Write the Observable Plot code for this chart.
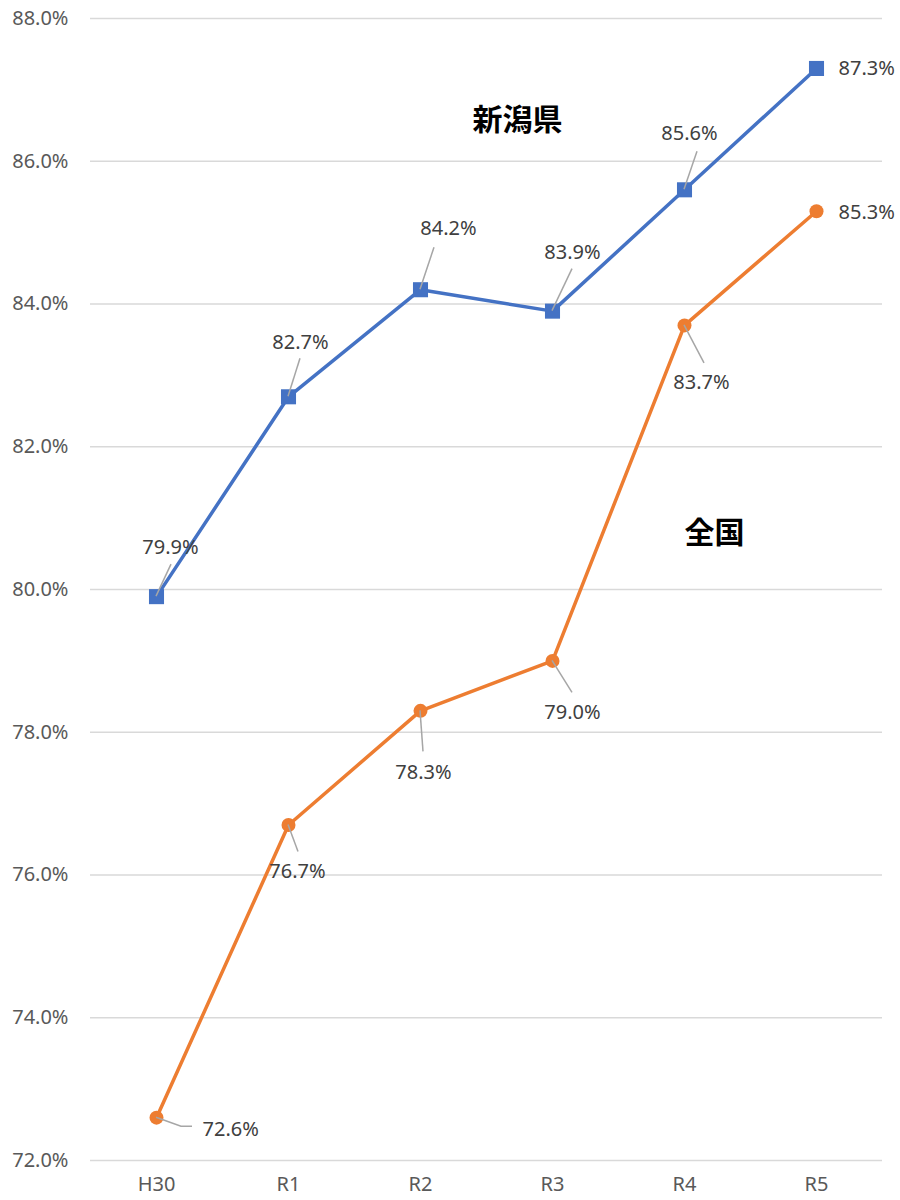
<!DOCTYPE html>
<html>
<head>
<meta charset="utf-8">
<script src="https://cdn.jsdelivr.net/npm/d3@7"></script>
<script src="https://cdn.jsdelivr.net/npm/@observablehq/plot@0.6"></script>
<style>
  html, body { margin: 0; padding: 0; background: #fff; }
  #chart { width: 900px; height: 1200px; }
</style>
</head>
<body>
<div id="chart"></div>
<script>
// ---- data ----
const years = ["H30", "R1", "R2", "R3", "R4", "R5"];
const niigata = [79.9, 82.7, 84.2, 83.9, 85.6, 87.3];
const national = [72.6, 76.7, 78.3, 79.0, 83.7, 85.3];
const yTicks = [72, 74, 76, 78, 80, 82, 84, 86, 88];
const seriesNames = ["新潟県", "全国"];

// ---- label placement (pixel offsets from each point) ----
const niigataLabelOffset = [[14, -49], [12, -54], [28, -61], [20, -59], [5, -56], [null, 0]];
const niigataLeader = [[[0,0],[15,-32]], [[0,0],[12,-38]], [[0,0],[14,-42]], [[0,0],[20,-42]], [[0,0],[13,-38]], null];
const nationalLabelOffset = [[null, 12], [9, 47], [3, 62], [20, 52], [17, 57], [null, 1]];
const nationalLeader = [[[0,0],[25,9],[36,9]], [[0,0],[10,27]], [[0,0],[3,41]], [[0,0],[20,32]], [[0,0],[20,38]], null];

const BLUE = "#4472C4", ORANGE = "#ED7D31";
const fmt = v => v.toFixed(1) + "%";

const rowsN = years.map((y, i) => ({year: y, value: niigata[i]}));
const rowsJ = years.map((y, i) => ({year: y, value: national[i]}));

function leaderMark(values, leaders) {
  return (index, scales) => {
    const g = d3.create("svg:g")
      .attr("fill", "none")
      .attr("stroke", "#a6a6a6")
      .attr("stroke-width", 1.5);
    years.forEach((yr, i) => {
      const pts = leaders[i];
      if (!pts) return;
      const x0 = scales.x(yr), y0 = scales.y(values[i]);
      g.append("path").attr("d", d3.line()(pts.map(([dx, dy]) => [x0 + dx, y0 + dy])));
    });
    return g.node();
  };
}

function labelMarks(rows, offsets) {
  return rows.map((r, i) => {
    const [dx, dy] = offsets[i];
    const start = dx === null;
    return Plot.text([r], {
      x: "year", y: "value", text: d => fmt(d.value),
      dx: start ? (i === 0 ? 46 : 22) : dx, dy,
      textAnchor: start ? "start" : "middle",
      lineAnchor: "middle",
      fill: "#404040", fontSize: 20
    });
  });
}

const chart = Plot.plot({
  width: 900,
  height: 1200,
  marginTop: 18,
  marginBottom: 40,
  marginLeft: 90,
  marginRight: 18,
  style: {fontFamily: "'Noto Sans', 'Noto Sans CJK JP', sans-serif", fontSize: "20px", color: "#595959", background: "#fff", overflow: "visible"},
  x: {type: "point", domain: years, padding: 0.5, tickSize: 0, tickPadding: 16, label: null},
  y: {domain: [72, 88], ticks: yTicks, tickFormat: fmt, tickSize: 0, tickPadding: 22, label: null},
  marks: [
    Plot.gridY(yTicks, {stroke: "#d9d9d9", strokeOpacity: 1, strokeWidth: 1.5}),
    Plot.line(rowsN, {x: "year", y: "value", stroke: BLUE, strokeWidth: 3.5}),
    Plot.line(rowsJ, {x: "year", y: "value", stroke: ORANGE, strokeWidth: 3.5}),
    Plot.dot(rowsN, {x: "year", y: "value", symbol: "square", r: 8.5, fill: BLUE}),
    Plot.dot(rowsJ, {x: "year", y: "value", symbol: "circle", r: 7, fill: ORANGE}),
    leaderMark(niigata, niigataLeader),
    leaderMark(national, nationalLeader),
    ...labelMarks(rowsN, niigataLabelOffset),
    ...labelMarks(rowsJ, nationalLabelOffset),
    Plot.text([seriesNames[0]], {x: () => "R3", y: () => 86.57, text: d => d, dx: -35,
      fontSize: 30, fontWeight: "bold", fill: "#000", fontFamily: "'Noto Sans CJK JP', sans-serif"}),
    Plot.text([seriesNames[1]], {x: () => "R4", y: () => 80.78, text: d => d, dx: 30,
      fontSize: 30, fontWeight: "bold", fill: "#000", fontFamily: "'Noto Sans CJK JP', sans-serif"})
  ]
});
document.getElementById("chart").appendChild(chart);
</script>
</body>
</html>
